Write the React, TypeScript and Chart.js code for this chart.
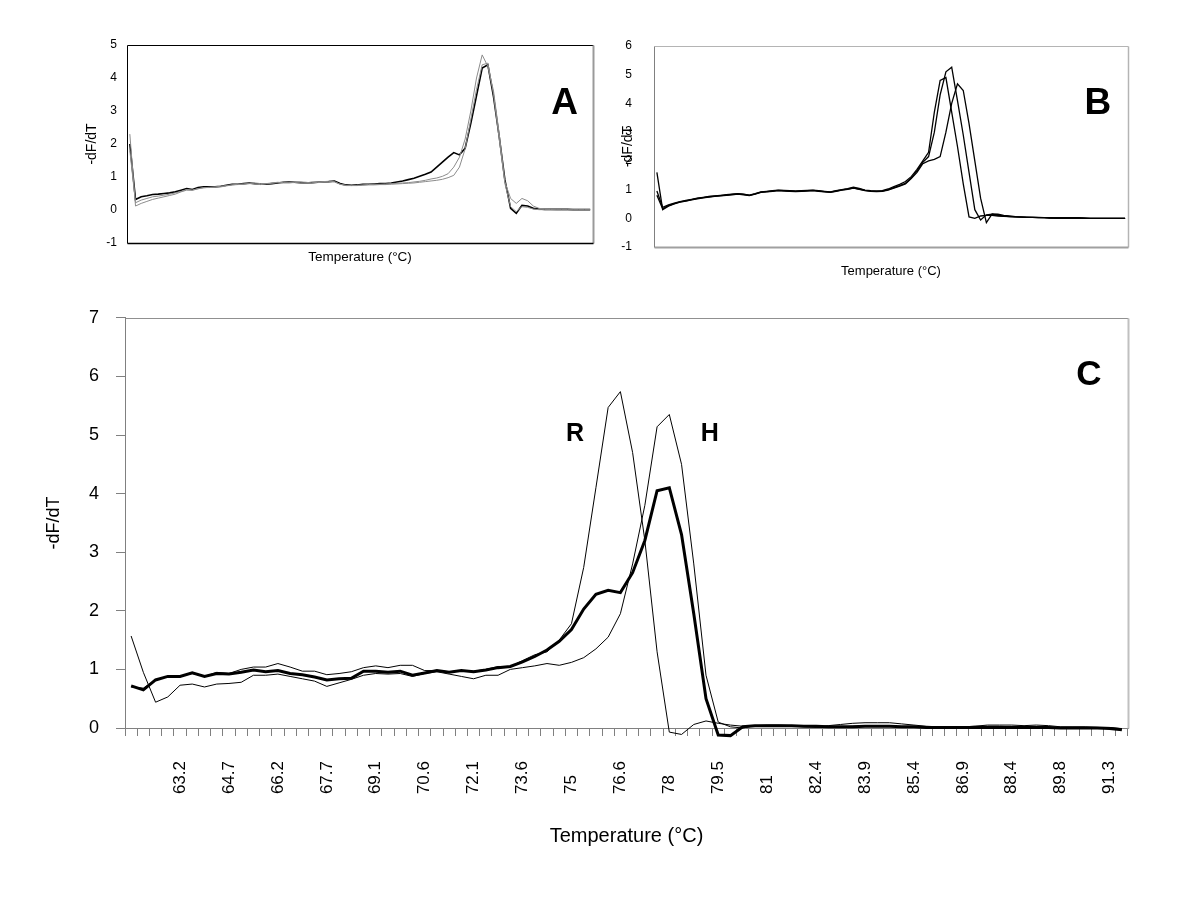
import React, { useEffect, useRef } from 'react';
import { Chart, registerables } from 'chart.js';

Chart.register(...registerables);

const FONT = "'Liberation Sans', Arial, Helvetica, sans-serif";

// Temperature categories (°C), shared by the three panels
const temperatures = [
  61.7, 62.1, 62.5, 62.8, 63.2, 63.6, 63.9, 64.3, 64.7, 65.1,
  65.4, 65.8, 66.2, 66.6, 66.9, 67.3, 67.7, 68.0, 68.4, 68.8,
  69.1, 69.5, 69.9, 70.2, 70.6, 71.0, 71.4, 71.7, 72.1, 72.5,
  72.8, 73.2, 73.6, 73.9, 74.3, 74.7, 75.0, 75.4, 75.8, 76.2,
  76.6, 76.9, 77.3, 77.6, 78.0, 78.4, 78.8, 79.1, 79.5, 79.9,
  80.2, 80.6, 81.0, 81.3, 81.7, 82.1, 82.4, 82.8, 83.2, 83.5,
  83.9, 84.3, 84.7, 85.0, 85.4, 85.8, 86.2, 86.5, 86.9, 87.3,
  87.6, 88.0, 88.4, 88.7, 89.1, 89.5, 89.8, 90.2, 90.6, 90.9,
  91.3, 91.7,
];

// Panel A: -dF/dT series
const panelAMain = [
  2.00, 0.32, 0.40, 0.43, 0.47, 0.48, 0.50, 0.52, 0.55, 0.60,
  0.65, 0.62, 0.68, 0.70, 0.70, 0.70, 0.72, 0.75, 0.78, 0.78,
  0.80, 0.82, 0.80, 0.79, 0.78, 0.80, 0.82, 0.84, 0.85, 0.84,
  0.83, 0.82, 0.83, 0.84, 0.85, 0.86, 0.88, 0.80, 0.76, 0.75,
  0.76, 0.78, 0.78, 0.79, 0.80, 0.80, 0.82, 0.85, 0.88, 0.92,
  0.96, 1.02, 1.08, 1.15, 1.30, 1.45, 1.60, 1.74, 1.67, 1.87,
  2.63, 3.46, 4.30, 4.40, 3.43, 2.22, 0.91, 0.05, -0.10, 0.14,
  0.12, 0.05, 0.03, 0.02, 0.02, 0.02, 0.02, 0.02, 0.01, 0.01,
  0.01, 0.01,
];
const panelAGray1 = [
  2.30, 0.12, 0.20, 0.26, 0.32, 0.36, 0.40, 0.44, 0.48, 0.55,
  0.60, 0.60, 0.64, 0.68, 0.68, 0.70, 0.72, 0.74, 0.76, 0.78,
  0.79, 0.80, 0.82, 0.80, 0.80, 0.82, 0.84, 0.83, 0.82, 0.84,
  0.85, 0.84, 0.82, 0.84, 0.86, 0.87, 0.86, 0.78, 0.74, 0.74,
  0.75, 0.76, 0.77, 0.78, 0.78, 0.79, 0.80, 0.81, 0.82, 0.83,
  0.85, 0.87, 0.90, 0.94, 0.97, 1.02, 1.10, 1.30, 1.60, 2.15,
  3.00, 4.00, 4.70, 4.35, 3.60, 2.30, 0.85, 0.35, 0.20, 0.35,
  0.28, 0.12, 0.05, 0.03, 0.02, 0.02, 0.02, 0.02, 0.02, 0.02,
  0.02, 0.02,
];
const panelAGray2 = [
  1.80, 0.22, 0.30, 0.35, 0.40, 0.42, 0.45, 0.48, 0.52, 0.56,
  0.62, 0.60, 0.65, 0.67, 0.69, 0.69, 0.70, 0.73, 0.76, 0.77,
  0.78, 0.80, 0.79, 0.77, 0.79, 0.81, 0.83, 0.82, 0.83, 0.83,
  0.82, 0.81, 0.82, 0.83, 0.84, 0.85, 0.85, 0.78, 0.75, 0.74,
  0.74, 0.75, 0.76, 0.76, 0.77, 0.77, 0.78, 0.79, 0.80, 0.81,
  0.82, 0.84, 0.86, 0.88, 0.90, 0.93, 0.98, 1.05, 1.30, 1.85,
  2.75, 3.65, 4.40, 4.45, 3.50, 2.15, 0.80, 0.10, -0.05, 0.10,
  0.08, 0.03, 0.01, 0.01, 0.01, 0.00, 0.00, 0.00, 0.00, 0.00,
  0.00, 0.00,
];

// Panel B: -dF/dT series
const panelBRun1 = [
  0.95, 0.38, 0.47, 0.53, 0.58, 0.62, 0.66, 0.70, 0.73, 0.76,
  0.78, 0.80, 0.82, 0.84, 0.86, 0.84, 0.81, 0.86, 0.92, 0.94,
  0.96, 0.98, 0.97, 0.96, 0.95, 0.96, 0.97, 0.98, 0.96, 0.94,
  0.92, 0.96, 1.00, 1.03, 1.08, 1.04, 0.98, 0.96, 0.95, 0.96,
  1.02, 1.10, 1.18, 1.28, 1.45, 1.70, 2.00, 2.30, 3.70, 4.80,
  4.90, 3.70, 2.50, 1.20, 0.05, 0.00, 0.08, 0.10, 0.10, 0.08,
  0.07, 0.06, 0.05, 0.04, 0.03, 0.03, 0.02, 0.02, 0.01, 0.01,
  0.01, 0.01, 0.01, 0.01, 0.01, 0.00, 0.00, 0.00, 0.00, 0.00,
  0.00, 0.00,
];
const panelBRun2 = [
  0.80, 0.33, 0.44, 0.51, 0.57, 0.61, 0.65, 0.69, 0.72, 0.75,
  0.77, 0.79, 0.81, 0.83, 0.85, 0.83, 0.80, 0.85, 0.91, 0.93,
  0.95, 0.97, 0.96, 0.95, 0.94, 0.95, 0.96, 0.97, 0.95, 0.93,
  0.91, 0.95, 0.99, 1.02, 1.06, 1.02, 0.97, 0.95, 0.94, 0.95,
  1.00, 1.07, 1.14, 1.22, 1.40, 1.65, 1.95, 2.15, 3.00, 4.30,
  5.10, 5.26, 4.10, 2.90, 1.60, 0.30, -0.06, 0.12, 0.14, 0.10,
  0.08, 0.06, 0.05, 0.04, 0.03, 0.03, 0.02, 0.02, 0.01, 0.01,
  0.01, 0.01, 0.01, 0.01, 0.00, 0.00, 0.00, 0.00, 0.00, 0.00,
  0.00, 0.00,
];
const panelBRun3 = [
  1.60, 0.30, 0.42, 0.50, 0.56, 0.60, 0.64, 0.68, 0.71, 0.74,
  0.76, 0.78, 0.80, 0.82, 0.84, 0.82, 0.79, 0.84, 0.90, 0.92,
  0.94, 0.96, 0.95, 0.94, 0.93, 0.94, 0.95, 0.96, 0.94, 0.92,
  0.90, 0.94, 0.98, 1.01, 1.05, 1.01, 0.96, 0.94, 0.93, 0.94,
  0.98, 1.05, 1.12, 1.20, 1.38, 1.60, 1.90, 2.00, 2.05, 2.15,
  3.00, 4.00, 4.68, 4.45, 3.30, 2.00, 0.70, -0.15, 0.15, 0.14,
  0.10, 0.08, 0.06, 0.05, 0.04, 0.03, 0.03, 0.02, 0.02, 0.01,
  0.01, 0.01, 0.01, 0.01, 0.00, 0.00, 0.00, 0.00, 0.00, 0.00,
  0.00, 0.00,
];

// Panel C: heterozygote (bold), R and H curves
const panelCHeterozygote = [
  0.72, 0.65, 0.82, 0.88, 0.88, 0.94, 0.88, 0.93, 0.92, 0.95,
  0.99, 0.96, 0.98, 0.93, 0.91, 0.87, 0.82, 0.84, 0.85, 0.97,
  0.97, 0.95, 0.97, 0.90, 0.94, 0.98, 0.95, 0.98, 0.96, 0.99,
  1.03, 1.05, 1.13, 1.22, 1.33, 1.48, 1.68, 2.03, 2.28, 2.35,
  2.31, 2.65, 3.20, 4.05, 4.10, 3.30, 1.95, 0.50, -0.12, -0.13,
  0.02, 0.04, 0.04, 0.04, 0.04, 0.03, 0.03, 0.02, 0.02, 0.02,
  0.03, 0.03, 0.03, 0.02, 0.02, 0.01, 0.01, 0.01, 0.01, 0.01,
  0.01, 0.01, 0.01, 0.01, 0.01, 0.01, 0.00, 0.00, 0.00, 0.00,
  -0.01, -0.03,
];
const panelCR = [
  0.70, 0.68, 0.82, 0.88, 0.88, 0.93, 0.88, 0.95, 0.93, 1.00,
  1.04, 1.04, 1.10, 1.04, 0.97, 0.97, 0.91, 0.93, 0.96, 1.03,
  1.06, 1.03, 1.07, 1.07, 0.98, 0.98, 0.96, 0.98, 0.97, 1.00,
  1.05, 1.05, 1.15, 1.25, 1.30, 1.50, 1.78, 2.74, 4.10, 5.47,
  5.74, 4.70, 3.20, 1.30, -0.07, -0.11, 0.06, 0.12, 0.08, 0.05,
  0.03, 0.03, 0.04, 0.04, 0.03, 0.02, 0.01, 0.01, 0.02, 0.03,
  0.04, 0.04, 0.03, 0.02, 0.01, 0.01, 0.01, 0.01, 0.02, 0.03,
  0.03, 0.03, 0.02, 0.02, 0.02, 0.01, 0.01, 0.01, 0.01, 0.01,
  0.00, -0.02,
];
const panelCH = [
  1.57, 0.95, 0.44, 0.53, 0.73, 0.75, 0.70, 0.75, 0.76, 0.78,
  0.90, 0.90, 0.92, 0.88, 0.84, 0.80, 0.71, 0.77, 0.83, 0.90,
  0.93, 0.92, 0.93, 0.88, 0.93, 0.96, 0.92, 0.88, 0.84, 0.90,
  0.90, 1.00, 1.03, 1.06, 1.10, 1.07, 1.12, 1.20, 1.35, 1.55,
  1.95, 2.80, 3.80, 5.14, 5.35, 4.50, 2.80, 0.90, 0.10, 0.02,
  0.00, 0.04, 0.05, 0.05, 0.04, 0.03, 0.02, 0.04, 0.06, 0.08,
  0.09, 0.09, 0.09, 0.07, 0.05, 0.03, 0.02, 0.02, 0.02, 0.03,
  0.05, 0.05, 0.05, 0.04, 0.05, 0.04, 0.02, 0.02, 0.02, 0.01,
  0.01, -0.01,
];

const yRangeA = [-1, 5];
const yRangeB = [-1, 6];
const yRangeC = [0, 7];

type Side = { color: string; width: number };

const framePlugin = {
  id: 'frame',
  beforeDatasetsDraw(chart: any, _args: any, opts: any) {
    const { ctx, chartArea: a } = chart;
    const sides = (opts && opts.sides) || {};
    const line = (s: Side | undefined, x1: number, y1: number, x2: number, y2: number) => {
      if (!s) return;
      ctx.save();
      ctx.strokeStyle = s.color;
      ctx.lineWidth = s.width;
      ctx.beginPath();
      ctx.moveTo(x1, y1);
      ctx.lineTo(x2, y2);
      ctx.stroke();
      ctx.restore();
    };
    const L = Math.round(a.left) + 0.5;
    const R = Math.round(a.right) + 0.5;
    const T = Math.round(a.top) + 0.5;
    const B = Math.round(a.bottom) + 0.5;
    line(sides.top, L, T, R, T);
    line(sides.right, R, T, R, B);
    line(sides.bottom, L, B, R, B);
    line(sides.left, L, T, L, B);
  },
};

const panelTextPlugin = {
  id: 'panelText',
  afterDatasetsDraw(chart: any, _args: any, opts: any) {
    const { ctx, scales } = chart;
    ((opts && opts.items) || []).forEach((it: any) => {
      ctx.save();
      ctx.font = `bold ${it.size}px ${FONT}`;
      ctx.fillStyle = '#000';
      ctx.textAlign = 'center';
      ctx.textBaseline = 'alphabetic';
      const x = scales.x.getPixelForValue(it.x);
      const y = scales.y.getPixelForValue(it.y) + it.size * 0.36;
      ctx.fillText(it.text, x, y);
      ctx.restore();
    });
  },
};

const thin = (data: number[], color: string, width: number) => ({
  data,
  borderColor: color,
  borderWidth: width,
  pointRadius: 0,
  tension: 0,
  fill: false,
  clip: false as any,
});

function baseOptions() {
  return {
    responsive: false,
    animation: false as const,
    events: [] as any[],
    elements: { point: { radius: 0 }, line: { tension: 0 } },
  };
}

function configA(): any {
  return {
    type: 'line',
    data: {
      labels: temperatures,
      datasets: [
        thin(panelAGray1, '#8c8c8c', 1),
        thin(panelAGray2, '#8c8c8c', 1),
        thin(panelAMain, '#000000', 1.6),
      ],
    },
    options: {
      ...baseOptions(),
      layout: { padding: { left: 0, right: 7, top: 45, bottom: 0 } },
      scales: {
        x: {
          type: 'category',
          offset: true,
          grid: { display: false, drawTicks: false, offset: true },
          border: { display: false },
          ticks: { display: false },
          title: {
            display: true,
            text: 'Temperature (°C)',
            color: '#000',
            font: { family: FONT, size: 13.5 },
            padding: { top: 0, bottom: 20 },
          },
          afterFit: (s: any) => { s.height = 42; },
        },
        y: {
          min: yRangeA[0],
          max: yRangeA[1],
          grid: { display: false, drawTicks: false },
          border: { display: false },
          ticks: { stepSize: 1, color: '#000', font: { family: FONT, size: 12 }, padding: 10 },
          title: {
            display: true,
            text: '-dF/dT',
            color: '#000',
            font: { family: FONT, size: 14 },
            padding: { top: 84, bottom: 0 },
          },
          afterFit: (s: any) => { s.width = 127; },
        },
      },
      plugins: {
        legend: { display: false },
        tooltip: { enabled: false },
        frame: {
          sides: {
            top: { color: '#000', width: 1 },
            left: { color: '#000', width: 1 },
            bottom: { color: '#000', width: 1.5 },
            right: { color: '#9a9a9a', width: 2 },
          },
        },
        panelText: { items: [{ text: 'A', x: 76.5, y: 3.3, size: 37 }] },
      },
    },
    plugins: [framePlugin, panelTextPlugin],
  };
}

function configB(): any {
  return {
    type: 'line',
    data: {
      labels: temperatures,
      datasets: [
        thin(panelBRun1, '#000000', 1.3),
        thin(panelBRun2, '#000000', 1.3),
        thin(panelBRun3, '#000000', 1.3),
      ],
    },
    options: {
      ...baseOptions(),
      layout: { padding: { left: 0, right: 72, top: 46, bottom: 0 } },
      scales: {
        x: {
          type: 'category',
          offset: true,
          grid: { display: false, drawTicks: false, offset: true },
          border: { display: false },
          ticks: { display: false },
          title: {
            display: true,
            text: 'Temperature (°C)',
            color: '#000',
            font: { family: FONT, size: 13 },
            padding: { top: 0, bottom: 11 },
          },
          afterFit: (s: any) => { s.height = 43; },
        },
        y: {
          min: yRangeB[0],
          max: yRangeB[1],
          grid: { display: false, drawTicks: false },
          border: { display: false },
          ticks: { stepSize: 1, color: '#000', font: { family: FONT, size: 12 }, padding: 22 },
          title: {
            display: true,
            text: '-dF/dT',
            color: '#000',
            font: { family: FONT, size: 14 },
            padding: { top: 20, bottom: 0 },
          },
          afterFit: (s: any) => { s.width = 54; },
        },
      },
      plugins: {
        legend: { display: false },
        tooltip: { enabled: false },
        frame: {
          sides: {
            top: { color: '#b4b4b4', width: 1 },
            left: { color: '#808080', width: 1 },
            bottom: { color: '#a0a0a0', width: 2 },
            right: { color: '#b4b4b4', width: 1.5 },
          },
        },
        panelText: { items: [{ text: 'B', x: 76.3, y: 4.1, size: 37 }] },
      },
    },
    plugins: [framePlugin, panelTextPlugin],
  };
}

const labelForTick = (index: number) => {
  if (index === 0 || index % 4 !== 0) return '';
  const s = String(temperatures[index]);
  return s.length < 4 ? s + '   ' : s;
};

function configC(): any {
  return {
    type: 'line',
    data: {
      labels: temperatures,
      datasets: [
        thin(panelCH, '#000000', 1),
        thin(panelCR, '#000000', 1),
        thin(panelCHeterozygote, '#000000', 3),
      ],
    },
    options: {
      ...baseOptions(),
      layout: { padding: { left: 0, right: 72, top: 26, bottom: 0 } },
      scales: {
        x: {
          type: 'category',
          offset: true,
          grid: { offset: true, drawOnChartArea: false, drawTicks: true, tickLength: 8, color: '#808080' },
          border: { display: true, color: '#808080', width: 1 },
          ticks: {
            autoSkip: false,
            maxRotation: 90,
            minRotation: 90,
            color: '#000',
            font: { family: FONT, size: 17 },
            padding: 25,
            callback: (_v: any, index: number) => labelForTick(index),
          },
          title: {
            display: true,
            text: 'Temperature (°C)',
            color: '#000',
            font: { family: FONT, size: 20 },
            padding: { top: 0, bottom: 52 },
          },
          afterFit: (s: any) => { s.height = 172; },
        },
        y: {
          min: yRangeC[0],
          max: yRangeC[1],
          grid: { drawOnChartArea: false, drawTicks: true, tickLength: 9, color: '#808080' },
          border: { display: true, color: '#808080', width: 1 },
          ticks: { stepSize: 1, color: '#000', font: { family: FONT, size: 18 }, padding: 17 },
          title: {
            display: true,
            text: '-dF/dT',
            color: '#000',
            font: { family: FONT, size: 18 },
            padding: { top: 43, bottom: 0 },
          },
          afterFit: (s: any) => { s.width = 125; },
        },
      },
      plugins: {
        legend: { display: false },
        tooltip: { enabled: false },
        frame: {
          sides: {
            top: { color: '#909090', width: 1 },
            right: { color: '#c0c0c0', width: 2 },
          },
        },
        panelText: {
          items: [
            { text: 'R', x: 36.3, y: 5.05, size: 25 },
            { text: 'H', x: 47.3, y: 5.05, size: 25 },
            { text: 'C', x: 78.3, y: 6.07, size: 35 },
          ],
        },
      },
    },
    plugins: [framePlugin, panelTextPlugin],
  };
}

export default function App() {
  const refA = useRef<HTMLCanvasElement | null>(null);
  const refB = useRef<HTMLCanvasElement | null>(null);
  const refC = useRef<HTMLCanvasElement | null>(null);

  useEffect(() => {
    const charts: Chart[] = [];
    if (refA.current) charts.push(new Chart(refA.current, configA()));
    if (refB.current) charts.push(new Chart(refB.current, configB()));
    if (refC.current) charts.push(new Chart(refC.current, configC()));
    return () => charts.forEach((c) => c.destroy());
  }, []);

  return (
    <div style={{ position: 'absolute', left: 0, top: 0, width: 1200, height: 900, background: '#fff', overflow: 'hidden' }}>
      <canvas ref={refA} width={600} height={285} style={{ position: 'absolute', left: 0, top: 0, width: 600, height: 285 }} />
      <canvas ref={refB} width={600} height={290} style={{ position: 'absolute', left: 600, top: 0, width: 600, height: 290 }} />
      <canvas ref={refC} width={1200} height={610} style={{ position: 'absolute', left: 0, top: 290, width: 1200, height: 610 }} />
    </div>
  );
}
